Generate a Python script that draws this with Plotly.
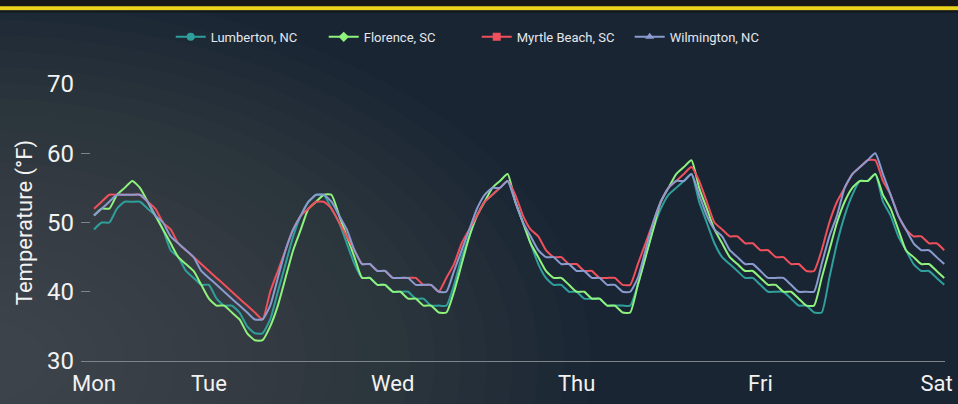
import plotly.graph_objects as go

# Hourly temperatures, Mon 09:00 -> Sat 00:00 (112 points)
lumberton = [49,50,50,52,53,53,53,52,51,49,46,45,43,42,41,41,39,38,38,37,35,34,34,36,40,44,48,51,53,54,54,52,50,47,44,42,42,41,41,40,
             40,40,39,39,38,38,38,41,45,48,51,53,54,55,56,53,50,47,44,42,41,41,40,40,39,39,39,38,38,38,38,41,45,49,52,54,55,56,57,53,
             50,47,45,44,43,42,42,41,40,40,40,39,38,38,37,37,42,47,51,54,56,56,57,53,51,48,46,44,43,43,42,41]
florence = [51,52,52,54,55,56,55,53,51,49,47,45,44,43,41,39,38,38,37,36,34,33,33,35,38,42,46,49,52,53,54,54,51,48,45,42,42,41,41,40,
            40,39,39,38,38,37,37,40,44,48,51,53,55,56,57,53,50,47,45,43,42,42,41,40,40,39,39,38,38,37,37,41,45,49,53,55,57,58,59,55,
            52,49,47,45,44,43,43,42,41,41,40,40,39,38,38,42,46,50,53,55,56,56,57,54,52,49,46,45,44,44,43,42]
myrtle_beach = [52,53,54,54,54,54,54,53,52,50,49,47,46,45,44,43,42,41,40,39,38,37,36,40,43,46,49,51,52,53,53,52,50,48,46,44,44,43,43,42,
                42,42,42,41,41,40,42,44,47,49,51,53,54,55,56,54,51,49,48,46,45,45,44,44,43,43,42,42,42,41,41,44,47,50,53,55,56,57,58,56,
                53,50,49,48,48,47,47,46,46,45,45,44,44,43,43,46,50,53,55,57,58,59,59,56,54,51,49,48,48,47,47,46]
wilmington = [51,52,53,54,54,54,54,53,51,50,48,47,46,45,43,42,41,40,39,38,37,36,36,38,42,46,49,51,53,54,54,53,51,49,46,44,44,43,43,42,
              42,42,41,41,41,40,40,43,46,49,52,54,55,55,56,53,50,48,46,45,45,44,44,43,43,42,42,41,41,40,40,42,46,50,53,55,56,56,57,54,
              51,49,48,46,45,44,44,43,42,42,42,41,40,40,40,44,48,51,55,57,58,59,60,57,54,51,49,47,46,46,45,44]

series_names = ["Lumberton, NC", "Florence, SC", "Myrtle Beach, SC", "Wilmington, NC"]
series_values = [lumberton, florence, myrtle_beach, wilmington]
series_colors = ["#2f9f9c", "#8ef27c", "#f0505c", "#8a9bd0"]
series_symbols = ["circle", "diamond", "square", "triangle-up"]

hours = list(range(len(lumberton)))
day_labels = ["Mon", "Tue", "Wed", "Thu", "Fri", "Sat"]
day_tick_hours = [0, 15, 39, 63, 87, 110]

y_ticks = [30, 40, 50, 60, 70]

FONT = "Roboto, 'Noto Sans', sans-serif"

fig = go.Figure()
for name, vals, col in zip(series_names, series_values, series_colors):
    fig.add_trace(go.Scatter(
        x=hours, y=vals, name=name, mode="lines",
        line=dict(color=col, width=2, shape="spline", smoothing=0.5),
        showlegend=False,
    ))
# legend entries (line + marker symbol)
for name, col, sym in zip(series_names, series_colors, series_symbols):
    fig.add_trace(go.Scatter(
        x=[None], y=[None], name=name, mode="lines+markers",
        line=dict(color=col, width=2),
        marker=dict(symbol=sym, size=8, color=col),
        showlegend=True,
    ))

shapes = []
# soft cloudy lighter haze toward the lower-left
for k in range(22):
    r = 0.08 + k * 0.03
    shapes.append(dict(type="circle", xref="paper", yref="paper",
                       x0=-0.12 - r, x1=-0.12 + r, y0=0.0 - r * 1.9, y1=0.0 + r * 1.9,
                       fillcolor="rgba(160,160,165,0.018)", line=dict(width=0), layer="below"))
# top dark band + yellow stripe
shapes.append(dict(type="rect", xref="paper", yref="paper", x0=-0.1, x1=1.02, y0=1.28, y1=1.32,
                   fillcolor="#181818", line=dict(width=0), layer="below"))
shapes.append(dict(type="rect", xref="paper", yref="paper", x0=-0.1, x1=1.02, y0=1.266, y1=1.281,
                   fillcolor="#ecd31c", line=dict(width=0), layer="below"))
shapes.append(dict(type="rect", xref="paper", yref="paper", x0=-0.1, x1=1.02, y0=1.258, y1=1.266,
                   fillcolor="rgba(10,10,10,0.5)", line=dict(width=0), layer="below"))

fig.update_layout(
    width=958, height=404,
    margin=dict(l=81, r=13, t=84, b=43),
    paper_bgcolor="#1a2533",
    plot_bgcolor="rgba(0,0,0,0)",
    font=dict(family=FONT, color="#f0f0f0"),
    showlegend=True,
    legend=dict(orientation="h", x=0.458, xanchor="center", y=1.17, yanchor="middle",
                font=dict(size=13, color="#e4e7ec"), bgcolor="rgba(0,0,0,0)",
                itemwidth=30, entrywidth=108, entrywidthmode="pixels"),
    shapes=shapes,
    hovermode=False,
)
fig.update_xaxes(
    range=[-1.7, 111.1],
    tickmode="array", tickvals=day_tick_hours, ticktext=day_labels,
    showgrid=False, zeroline=False,
    showline=True, linecolor="#7d848c", linewidth=1,
    ticks="", tickfont=dict(size=22, color="#f2f2f2"),
    ticklabelstandoff=3,
    ticklabeloverflow="allow",
    automargin=False,
)
fig.update_yaxes(
    range=[30, 70],
    tickmode="array", tickvals=y_ticks,
    showgrid=False, zeroline=False, showline=False,
    ticks="inside", ticklen=9, tickcolor="#7d848c",
    tickfont=dict(size=24, color="#f2f2f2"),
    ticklabelstandoff=6,
    title=dict(text="Temperature (°F)", font=dict(size=22, color="#f2f2f2"), standoff=8),
    automargin=False,
)

fig.write_html("out.html", config={"displayModeBar": False},
               post_script="document.body.style.margin='0';document.body.style.overflow='hidden';")
